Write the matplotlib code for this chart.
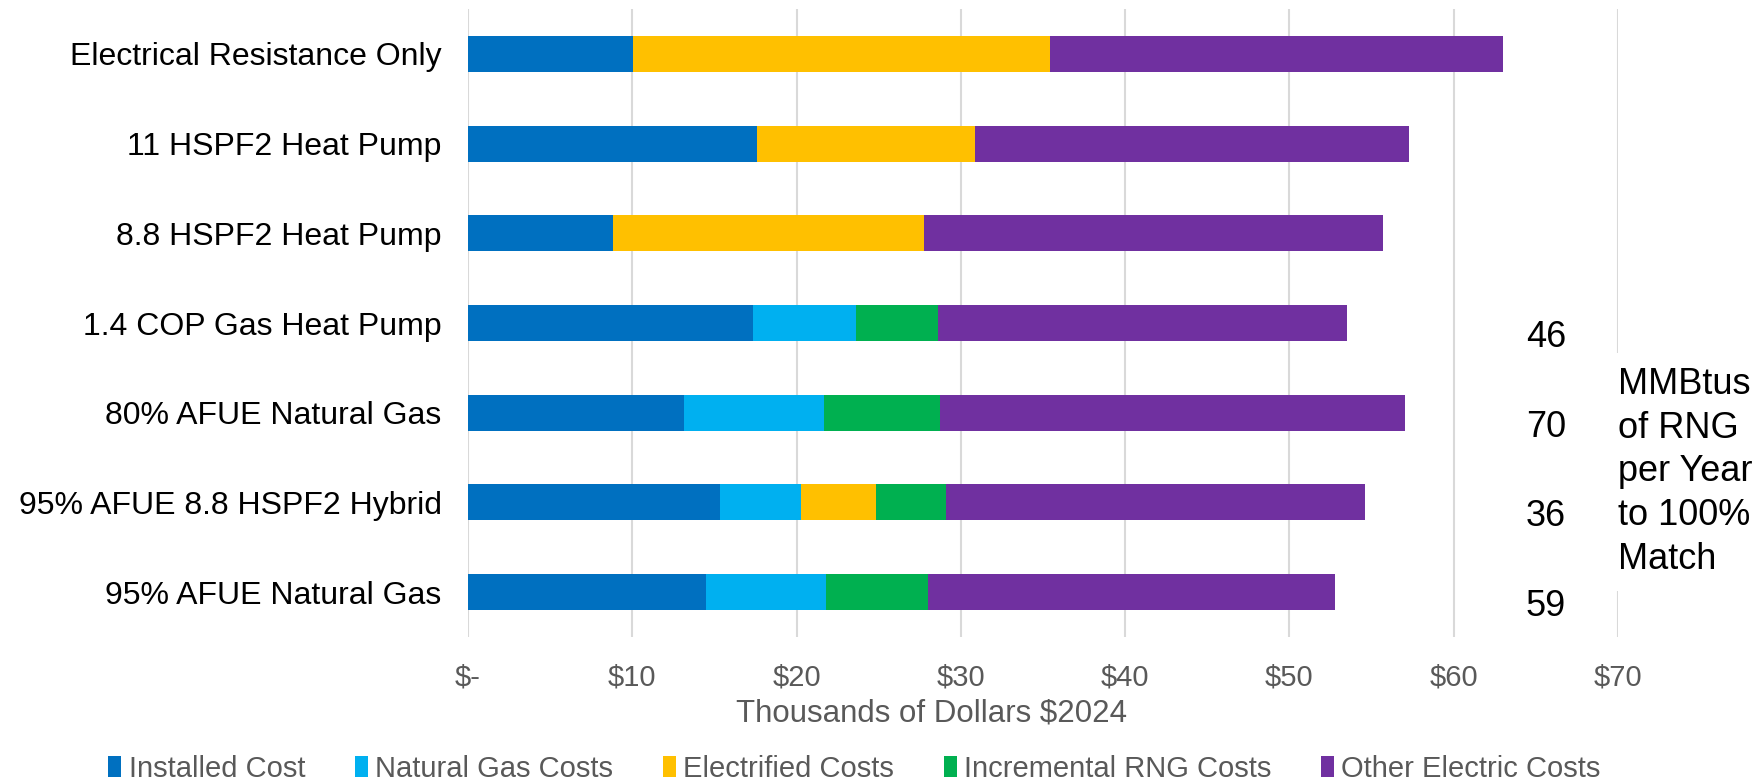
import matplotlib
matplotlib.use("Agg")
import matplotlib.pyplot as plt
from matplotlib.patches import Patch
import numpy as np

plt.rcParams['font.family'] = ['Liberation Sans', 'DejaVu Sans']

categories = ["Electrical Resistance Only", "11 HSPF2 Heat Pump", "8.8 HSPF2 Heat Pump",
              "1.4 COP Gas Heat Pump", "80% AFUE Natural Gas", "95% AFUE 8.8 HSPF2 Hybrid",
              "95% AFUE Natural Gas"]
installed = [10.06, 17.6, 8.84, 17.35, 13.13, 15.34, 14.47]
natural_gas = [0, 0, 0, 6.25, 8.53, 4.94, 7.31]
electrified = [25.39, 13.24, 18.94, 0, 0, 4.56, 0]
rng = [0, 0, 0, 5.0, 7.09, 4.26, 6.22]
other_electric = [27.55, 26.43, 27.9, 24.88, 28.28, 25.48, 24.75]

series_names = ["Installed Cost", "Natural Gas Costs", "Electrified Costs",
                "Incremental RNG Costs", "Other Electric Costs"]
colors = ["#0070C0", "#00B0F0", "#FFC000", "#00B050", "#7030A0"]

rng_mmbtu = ["46", "70", "36", "59"]
rng_rows = [3, 4, 5, 6]

xticks = [0, 10, 20, 30, 40, 50, 60, 70]
xticklabels = ["$-", "$10", "$20", "$30", "$40", "$50", "$60", "$70"]

fig = plt.figure(figsize=(17.62, 7.82), dpi=100)
ax = fig.add_axes([0.2656, 0.1854, 0.9183 - 0.2656, 0.9885 - 0.1854])

y = np.arange(len(categories))
left = np.zeros(len(categories))
for vals, name, c in zip([installed, natural_gas, electrified, rng, other_electric], series_names, colors):
    ax.barh(y, vals, left=left, height=0.4, color=c, label=name, zorder=3)
    left += np.array(vals)

ax.set_xlim(0, 70)
ax.set_ylim(len(categories) - 0.5, -0.5)
ax.set_yticks(y)
ax.set_yticklabels(categories, fontsize=23, color="black")
ax.set_xticks(xticks)
ax.set_xticklabels(xticklabels, fontsize=21, color="#595959")
ax.tick_params(axis="both", length=0)
ax.tick_params(axis="y", pad=19)
ax.tick_params(axis="x", pad=19)
ax.grid(axis="x", color="#D9D9D9", linewidth=1.5, zorder=0)
for s in ax.spines.values():
    s.set_visible(False)

for row, txt in zip(rng_rows, rng_mmbtu):
    ax.text(65.6, row + 0.16, txt, fontsize=26, ha="center", va="center", color="black")

ax.text(70, 4.66, "MMBtus\nof RNG\nper Year\nto 100%\nMatch", fontsize=26, ha="left", va="center",
        color="black", linespacing=1.33,
        bbox=dict(facecolor="white", edgecolor="none", pad=10), zorder=5, clip_on=False)

fig.text(931 / 1762, 1 - 714 / 782, "Thousands of Dollars $2024", fontsize=22.5,
         color="#595959", ha="center", va="center")

handles = [Patch(facecolor=c, edgecolor="none") for c in colors]
fig.legend(handles, series_names, loc="center", bbox_to_anchor=(0.485, 0.017), ncol=5,
           frameon=False, fontsize=21, labelcolor="#595959", handlelength=0.45,
           handleheight=0.7, handletextpad=0.25, columnspacing=1.7, borderpad=0)

fig.savefig("out.png", dpi=100)
